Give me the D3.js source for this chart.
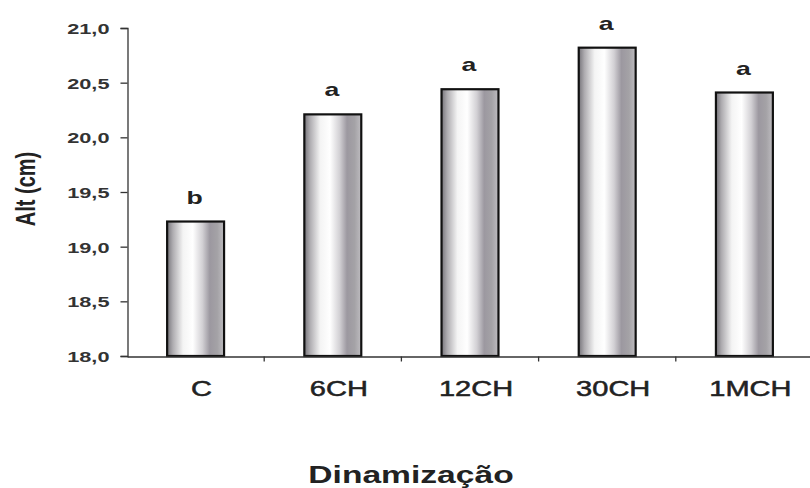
<!DOCTYPE html>
<html>
<head>
<meta charset="utf-8">
<script src="https://cdn.jsdelivr.net/npm/d3@7"></script>
<style>
  body { margin: 0; background: #fff; }
  svg { display: block; }
  text { font-family: "Liberation Sans", Arial, sans-serif; fill: #222; }
</style>
</head>
<body>
<div id="graph"></div>
<script>
'use strict';

// chart values
const categories = ['C', '6CH', '12CH', '30CH', '1MCH'];
const heights = [19.23, 20.21, 20.44, 20.82, 20.41];
const letters = ['b', 'a', 'a', 'a', 'a'];
const yTicks = [18.0, 18.5, 19.0, 19.5, 20.0, 20.5, 21.0];

(function() {

  let svgContainer = "";

  window.onload = function() {
    svgContainer = d3.select('#graph')
      .append('svg')
      .attr('width', 810)
      .attr('height', 488);
    makeChart();
  }

  // text drawn with a horizontal stretch, the scanned figure is wider than tall
  function wideText(x, y, txt, size, sx, weight, anchor) {
    return svgContainer.append('text')
      .attr('transform', 'translate(' + x + ',' + y + ') scale(' + sx + ',1)')
      .attr('text-anchor', anchor || 'middle')
      .style('font-size', size + 'px')
      .style('font-weight', weight || 'normal')
      .text(txt);
  }

  function makeChart() {
    let xScale = d3.scaleBand()
      .domain(categories)
      .range([127, 813])
      .padding(0);

    let yScale = d3.scaleLinear()
      .domain([18, 21])
      .range([356, 28]);

    let barW = xScale.bandwidth() * 0.415;

    // cylinder-like shading of the bars
    let grad = svgContainer.append('defs').append('linearGradient')
      .attr('id', 'barShade')
      .attr('x1', '0%').attr('x2', '100%')
      .attr('y1', '0%').attr('y2', '0%');
    [[0, '#76747a'], [0.1, '#aeacb0'], [0.28, '#f4f4f4'], [0.45, '#ffffff'],
     [0.62, '#d2d0d4'], [0.75, '#9c98a0'], [0.88, '#a4a2a6'], [1, '#bebcc0']]
      .forEach(s => grad.append('stop').attr('offset', s[0]).attr('stop-color', s[1]));

    // bars
    svgContainer.selectAll('.bar')
      .data(categories)
      .enter()
      .append('rect')
        .attr('class', 'bar')
        .attr('x', d => xScale(d) + (xScale.bandwidth() - barW) / 2)
        .attr('y', (d, i) => yScale(heights[i]))
        .attr('width', barW)
        .attr('height', (d, i) => yScale(18) - yScale(heights[i]))
        .style('fill', 'url(#barShade)')
        .style('stroke', '#111')
        .style('stroke-width', 2.2);

    // significance letters
    categories.forEach((c, i) => {
      wideText(xScale(c) + xScale.bandwidth() / 2 - 1, yScale(heights[i]) - 18,
        letters[i], 19, 1.4, 'bold');
    });

    // y axis
    let yAxis = d3.axisLeft(yScale)
      .tickValues(yTicks)
      .tickSizeOuter(0)
      .tickSize(7)
      .tickFormat(d => d.toFixed(1).replace('.', ','));
    let gy = svgContainer.append('g')
      .attr('transform', 'translate(127.5, 0)')
      .call(yAxis);
    gy.selectAll('path, line').style('stroke', '#333').style('stroke-width', 1.3);
    gy.selectAll('text')
      .attr('x', 0)
      .attr('dy', '0.36em')
      .attr('transform', 'translate(-18,0) scale(1.45,1)')
      .style('font-size', '15px')
      .style('font-weight', 'bold')
      .style('font-family', '"Liberation Sans", Arial, sans-serif')
      .style('fill', '#333');

    // x axis: line with ticks at the band edges
    let gx = svgContainer.append('g')
      .attr('transform', 'translate(0, 356.5)')
      .call(d3.axisBottom(xScale).tickSize(0).tickSizeOuter(0).tickFormat(''));
    gx.select('.domain').style('stroke', '#333').style('stroke-width', 1.3);
    gx.selectAll('.edge')
      .data(categories.slice(1))
      .enter()
      .append('line')
        .attr('class', 'edge')
        .attr('x1', d => xScale(d)).attr('x2', d => xScale(d))
        .attr('y1', 0).attr('y2', 5)
        .style('stroke', '#333')
        .style('stroke-width', 1.3);

    // category labels
    categories.forEach(c => {
      wideText(xScale(c) + xScale.bandwidth() / 2 + 6, 396, c, 22, 1.32, 'normal')
        .style('stroke', '#222')
        .style('stroke-width', 0.5);
    });

    // axis titles
    wideText(411, 483, 'Dinamização', 24, 1.4, 'bold');

    svgContainer.append('text')
      .attr('transform', 'translate(35,189) scale(1.35,1) rotate(-90)')
      .attr('text-anchor', 'middle')
      .style('font-size', '20px')
      .style('font-weight', 'bold')
      .text('Alt (cm)');
  }

})();
</script>
</body>
</html>
